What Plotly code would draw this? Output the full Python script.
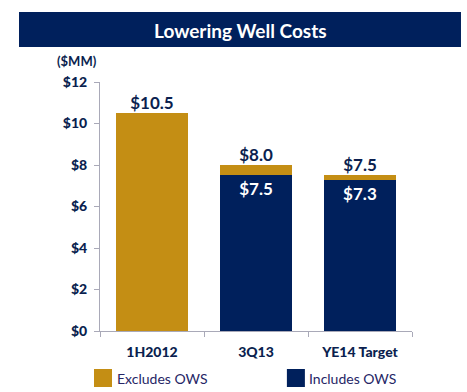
import plotly.graph_objects as go

categories = ["1H2012", "3Q13", "YE14 Target"]
includes_ows = [None, 7.5, 7.3]
excludes_ows = [10.5, 0.5, 0.2]
totals = [10.5, 8.0, 7.5]
tick_vals = [0, 2, 4, 6, 8, 10, 12]
tick_text = ["$0", "$2", "$4", "$6", "$8", "$10", "$12"]

NAVY = "#00205C"
GOLD = "#C48E14"
TXT = "#0B1F4F"
FONT = "Lato"

fig = go.Figure()
fig.add_trace(go.Bar(
    x=categories, y=includes_ows, name="Includes OWS",
    marker=dict(color=NAVY, line=dict(width=0)),
    text=[None if v is None else f"<b>${v:.1f}</b>" for v in includes_ows],
    textposition="inside", insidetextanchor="end",
    textfont=dict(color="white", size=17, family=FONT),
    showlegend=False,
))
fig.add_trace(go.Bar(
    x=categories, y=excludes_ows, name="Excludes OWS",
    marker=dict(color=GOLD, line=dict(width=0)),
    showlegend=False,
))
# total labels above bars
fig.add_trace(go.Scatter(
    x=categories, y=totals, mode="text",
    text=[f"<b>${v:.1f}</b>" for v in totals], textposition="top center",
    textfont=dict(color=TXT, size=17, family=FONT),
    showlegend=False, cliponaxis=False,
))

fig.update_layout(
    width=467, height=392,
    margin=dict(l=100, r=55, t=82, b=61, autoexpand=False),
    barmode="stack", bargap=0.31,
    plot_bgcolor="white", paper_bgcolor="white",
    font=dict(family=FONT, color=TXT),
    uniformtext=dict(minsize=8, mode="show"),
    hovermode=False,
)
fig.update_xaxes(
    showline=True, linecolor="#A9A9B8", linewidth=1,
    ticks="outside", tickson="boundaries", ticklen=5, tickcolor="#A9A9B8",
    tickfont=dict(size=14, color=TXT, family=FONT + " Black"),
    showgrid=False, fixedrange=True, ticklabelstandoff=8,
)
fig.update_yaxes(
    range=[0, 12], tickvals=tick_vals, ticktext=tick_text,
    showline=True, linecolor="#A9A9B8", linewidth=1,
    ticks="outside", ticklen=5, tickcolor="#A9A9B8",
    tickfont=dict(size=14, color=TXT, family=FONT + " Black"),
    showgrid=False, zeroline=False, ticklabelstandoff=4, fixedrange=True,
)

# title banner
fig.add_shape(type="rect", xref="paper", yref="paper",
              x0=-0.2596, x1=1.157, y0=1.1406, y1=1.281,
              fillcolor=NAVY, line=dict(width=0), layer="below")
fig.add_annotation(text="<b>Lowering Well Costs</b>", xref="paper", yref="paper",
                   x=0.45, y=1.208, xanchor="center", yanchor="middle", showarrow=False,
                   font=dict(size=19, color="white", family=FONT))
fig.add_annotation(text="<b>($MM)</b>", xref="paper", yref="paper",
                   x=-0.074, y=1.084, xanchor="center", yanchor="middle", showarrow=False,
                   font=dict(size=13, color=TXT, family=FONT))

# custom legend
legend_items = [("Excludes OWS", GOLD, -0.0192), ("Includes OWS", NAVY, 0.599)]
for name, col, x0 in legend_items:
    fig.add_shape(type="rect", xref="paper", yref="paper",
                  x0=x0, x1=x0 + 0.0577, y0=-0.2249, y1=-0.1526,
                  fillcolor=col, line=dict(width=0))
    fig.add_annotation(text=name, xref="paper", yref="paper",
                       x=x0 + 0.066, y=-0.189, xanchor="left", yanchor="middle",
                       showarrow=False,
                       font=dict(size=14, color="#262666", family=FONT))

fig.write_html("out.html", config={"displayModeBar": False},
               post_script="document.body.style.margin='0px';")
